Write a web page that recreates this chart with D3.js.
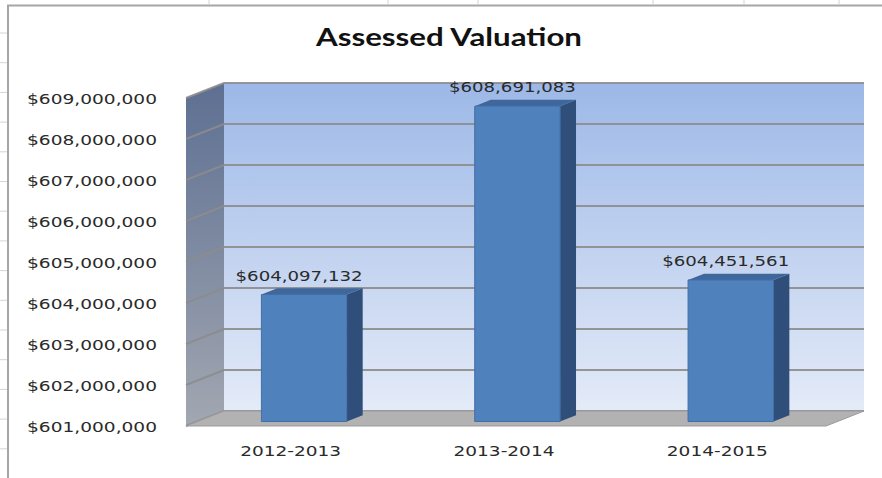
<!DOCTYPE html>
<html>
<head>
<meta charset="utf-8">
<script src="https://cdn.jsdelivr.net/npm/d3@7"></script>
<style>
  html, body { margin: 0; padding: 0; background: #fff; }
  svg { display: block; }
</style>
</head>
<body>
<svg id="chart" width="882" height="478"></svg>
<script>
// chart data
const categories = ["2012-2013", "2013-2014", "2014-2015"];
const values = [604097132, 608691083, 604451561];
const yTicks = [601e6, 602e6, 603e6, 604e6, 605e6, 606e6, 607e6, 608e6, 609e6];

const svg = d3.select("#chart");
const W = 882, H = 478;

// spreadsheet bits round the chart object
const sheet = svg.append("g");
d3.range(33, H, 29.7).forEach(y => {
	sheet.append("line").attr("x1", 0).attr("x2", 7).attr("y1", y).attr("y2", y)
		.attr("stroke", "#d4d4d4");
});
[209, 388, 478, 653, 744, 839].forEach(x => {
	sheet.append("line").attr("x1", x).attr("x2", x).attr("y1", 0).attr("y2", 4)
		.attr("stroke", "#d4d4d4");
});
sheet.append("path").attr("d", `M8,${H} V5.5 H${W}`)
	.attr("fill", "none").attr("stroke", "#a6a6a6").attr("stroke-width", 2);

// title
svg.append("text")
	.attr("x", 449).attr("y", 46)
	.attr("text-anchor", "middle")
	.attr("textLength", 266).attr("lengthAdjust", "spacingAndGlyphs")
	.style("font-family", "Lato, 'Open Sans', sans-serif")
	.style("font-weight", "700")
	.style("font-size", "24px")
	.attr("fill", "#111")
	.text("Assessed Valuation");

// front plane scales, depth is a skew
const x = d3.scaleBand().domain(categories).range([186, 826])
	.paddingInner(0.6).paddingOuter(0.3);
const y = d3.scaleLinear().domain([601e6, 609e6]).range([426, 98]);
const DX = 38, DY = -15;
const p = (px, py, d) => [px + DX * d, py + DY * d];

const defs = svg.append("defs");
const wallGrad = defs.append("linearGradient").attr("id", "wall")
	.attr("x1", 0).attr("y1", 0).attr("x2", 0).attr("y2", 1);
wallGrad.append("stop").attr("offset", "0%").attr("stop-color", "#9db8e7");
wallGrad.append("stop").attr("offset", "100%").attr("stop-color", "#e4ebf8");
const sideGrad = defs.append("linearGradient").attr("id", "side")
	.attr("x1", 0).attr("y1", 0).attr("x2", 0).attr("y2", 1);
sideGrad.append("stop").attr("offset", "0%").attr("stop-color", "#5d6f92");
sideGrad.append("stop").attr("offset", "100%").attr("stop-color", "#a2a7b1");

const y0 = y.range()[0], y1 = y.range()[1];
const x0 = x.range()[0], x1 = x.range()[1];
const poly = pts => "M" + pts.map(q => q.join(",")).join("L") + "Z";

// back wall
svg.append("path")
	.attr("d", poly([p(x0, y1, 1), p(x1, y1, 1), p(x1, y0, 1), p(x0, y0, 1)]))
	.attr("fill", "url(#wall)");
// side wall
svg.append("path")
	.attr("d", poly([p(x0, y1, 0), p(x0, y1, 1), p(x0, y0, 1), p(x0, y0, 0)]))
	.attr("fill", "url(#side)");

// gridlines on both walls
const grid = svg.append("g").attr("fill", "none")
	.attr("stroke", "#8c8c8c").attr("stroke-width", 2).attr("stroke-opacity", 0.9);
yTicks.forEach(t => {
	const a = p(x0, y(t), 0), b = p(x0, y(t), 1), c = p(x1, y(t), 1);
	grid.append("path").attr("d", `M${a}L${b}L${c}`);
});

// floor
svg.append("path")
	.attr("d", poly([p(x0, y0, 0), p(x1, y0, 0), p(x1, y0, 1), p(x0, y0, 1)]))
	.attr("fill", "#b2b2b2").attr("stroke", "#9a9a9a").attr("stroke-width", 1);

// bars
const d0 = 0.3, d1 = 0.72;
const bars = svg.append("g");
const textStyle = sel => sel
	.style("font-family", "'DejaVu Sans', Verdana, sans-serif")
	.style("font-size", "13.5px")
	.attr("fill", "#2a2a2a");

categories.forEach((c, i) => {
	const l = x(c), r = x(c) + x.bandwidth();
	const top = y(values[i]);
	const g = bars.append("g");
	g.append("path")
		.attr("d", poly([p(r, top, d0), p(r, top, d1), p(r, y0, d1), p(r, y0, d0)]))
		.attr("fill", "#2f4f7a");
	g.append("path")
		.attr("d", poly([p(l, top, d0), p(l, top, d1), p(r, top, d1), p(r, top, d0)]))
		.attr("fill", "#3f679c");
	g.append("path")
		.attr("d", poly([p(l, top, d0), p(r, top, d0), p(r, y0, d0), p(l, y0, d0)]))
		.attr("fill", "#4f81bd").attr("stroke", "#416fa8").attr("stroke-width", 1);

	const lp = p((l + r) / 2, top, d0);
	svg.append("text")
		.attr("x", lp[0] - 5).attr("y", lp[1] - 14)
		.attr("text-anchor", "middle")
		.attr("textLength", 127).attr("lengthAdjust", "spacingAndGlyphs")
		.call(textStyle)
		.text(d3.format("$,")(values[i]));
});

// y tick labels
yTicks.forEach(t => {
	svg.append("text")
		.attr("x", 157).attr("y", y(t) + 6)
		.attr("text-anchor", "end")
		.attr("textLength", 130).attr("lengthAdjust", "spacingAndGlyphs")
		.call(textStyle)
		.text(d3.format("$,")(t));
});

// category labels
categories.forEach(c => {
	svg.append("text")
		.attr("x", x(c) + x.bandwidth() / 2 - 2).attr("y", 456)
		.attr("text-anchor", "middle")
		.attr("textLength", 101).attr("lengthAdjust", "spacingAndGlyphs")
		.call(textStyle)
		.text(c);
});
</script>
</body>
</html>
